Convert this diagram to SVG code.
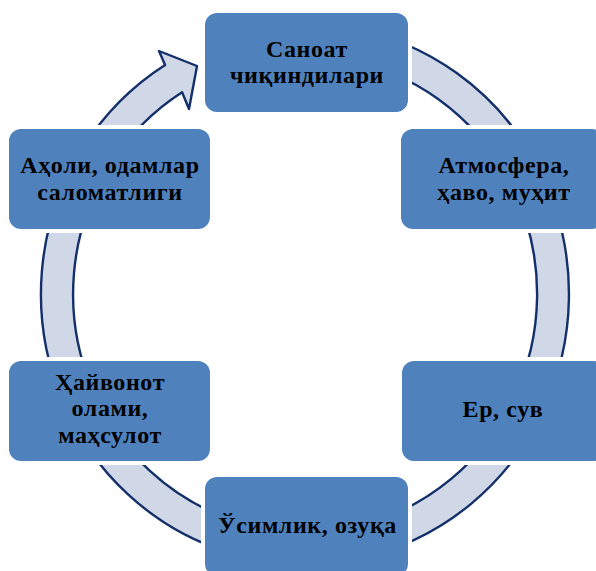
<svg xmlns="http://www.w3.org/2000/svg" width="596" height="571" viewBox="0 0 596 571">
<style>
.ring{fill:#d0d8e8;stroke:#14306a;stroke-width:2.4;stroke-linejoin:round}
.box{fill:#4f81bd;stroke:#ffffff;stroke-width:8;paint-order:stroke}
.lbl{font-family:"Liberation Serif","Times New Roman",serif;font-weight:bold;font-size:24px;letter-spacing:0.6px;fill:#000;text-anchor:middle}
</style>
<rect width="596" height="571" fill="#ffffff"/>
<g id="connectors">
<path class="ring" d="M350.8,28.1 A264,270 0 1 1 165.1,65 L159,51 L197,66 L189,109 L182.1,92.2 A232,238 0 1 0 345.3,59.6 Z"/>
</g>
<g id="node-top">
<rect class="box" x="205" y="13" width="203" height="99" rx="12"/>
<text class="lbl" x="307" y="57">Саноат</text>
<text class="lbl" x="307" y="83">чиқиндилари</text>
</g>
<g id="node-right-upper">
<rect class="box" x="401" y="129" width="203" height="100" rx="12"/>
<text class="lbl" x="504" y="173">Атмосфера,</text>
<text class="lbl" x="504" y="200">ҳаво, муҳит</text>
</g>
<g id="node-right-lower">
<rect class="box" x="402" y="361" width="203" height="100" rx="12"/>
<text class="lbl" x="503" y="417">Ер, сув</text>
</g>
<g id="node-bottom">
<rect class="box" x="205" y="477" width="203" height="99" rx="12"/>
<text class="lbl" x="307.5" y="533">Ўсимлик, озуқа</text>
</g>
<g id="node-left-lower">
<rect class="box" x="9" y="361" width="201" height="100" rx="12"/>
<text class="lbl" x="110" y="390">Ҳайвонот</text>
<text class="lbl" x="110" y="416">олами,</text>
<text class="lbl" x="110" y="443">маҳсулот</text>
</g>
<g id="node-left-upper">
<rect class="box" x="9" y="129" width="201" height="100" rx="12"/>
<text class="lbl" x="110" y="173">Аҳоли, одамлар</text>
<text class="lbl" x="110" y="200">саломатлиги</text>
</g>
</svg>
